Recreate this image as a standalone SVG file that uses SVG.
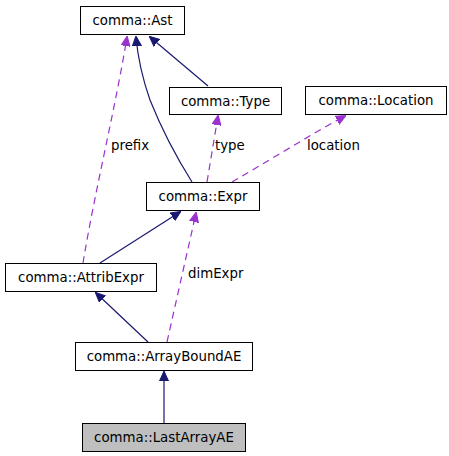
<svg xmlns="http://www.w3.org/2000/svg" width="449" height="456" viewBox="0 0 449 456">
<style>
.box{fill:#fff;stroke:#000;stroke-width:1}
.cur{fill:#bfbfbf;stroke:#000;stroke-width:1}
text{font-family:"DejaVu Sans",sans-serif;font-size:13.33px;fill:#000}
.t{text-anchor:middle}
.inh{fill:none;stroke:#191970;stroke-width:1.2}
.use{fill:none;stroke:#9a32cd;stroke-width:1.2;stroke-dasharray:7,5}
</style>
<defs>
<marker id="ah" markerWidth="10" markerHeight="10" refX="9" refY="5" orient="auto" markerUnits="userSpaceOnUse">
<path d="M0,0.5 L10,5 L0,9.5 Z" fill="#191970" stroke="#191970"/>
</marker>
<marker id="ap" markerWidth="10" markerHeight="10" refX="9" refY="5" orient="auto" markerUnits="userSpaceOnUse">
<path d="M0,0.5 L10,5 L0,9.5 Z" fill="#9a32cd" stroke="#9a32cd"/>
</marker>
</defs>
<g id="connectors">
<path class="inh" d="M208,86 L150,37" marker-end="url(#ah)"/>
<path class="inh" d="M192,182 C175,155 162,130 150,100 C143,80 138,60 136,37" marker-end="url(#ah)"/>
<path class="inh" d="M100,263 L180,212" marker-end="url(#ah)"/>
<path class="inh" d="M148,342 L96,293" marker-end="url(#ah)"/>
<path class="inh" d="M164,423 L164,372" marker-end="url(#ah)"/>
<path class="use" d="M83,263 C95,190 115,110 127,37" marker-end="url(#ap)"/>
<path class="use" d="M207,182 L218,116" marker-end="url(#ap)"/>
<path class="use" d="M232,182 C270,160 310,135 345,116" marker-end="url(#ap)"/>
<path class="use" d="M167,342 L196,213" marker-end="url(#ap)"/>
<text x="111" y="150">prefix</text>
<text x="215" y="150">type</text>
<text x="307" y="150">location</text>
<text x="188" y="278">dimExpr</text>
</g>
<g id="node-ast"><rect class="box" x="80.5" y="6.5" width="104" height="28"/><text class="t" x="132.5" y="25">comma::Ast</text></g>
<g id="node-type"><rect class="box" x="169.5" y="87.5" width="112" height="27"/><text class="t" x="225.5" y="105.5">comma::Type</text></g>
<g id="node-location"><rect class="box" x="305.5" y="86.5" width="141" height="28"/><text class="t" x="376" y="105">comma::Location</text></g>
<g id="node-expr"><rect class="box" x="146.5" y="182.5" width="113" height="28"/><text class="t" x="203" y="201">comma::Expr</text></g>
<g id="node-attribexpr"><rect class="box" x="5.5" y="263.5" width="151" height="28"/><text class="t" x="81" y="282">comma::AttribExpr</text></g>
<g id="node-arrayboundae"><rect class="box" x="75.5" y="342.5" width="177" height="28"/><text class="t" x="164" y="361">comma::ArrayBoundAE</text></g>
<g id="node-lastarrayae"><rect class="cur" x="82.5" y="423.5" width="163" height="28"/><text class="t" x="164" y="442">comma::LastArrayAE</text></g>
</svg>
